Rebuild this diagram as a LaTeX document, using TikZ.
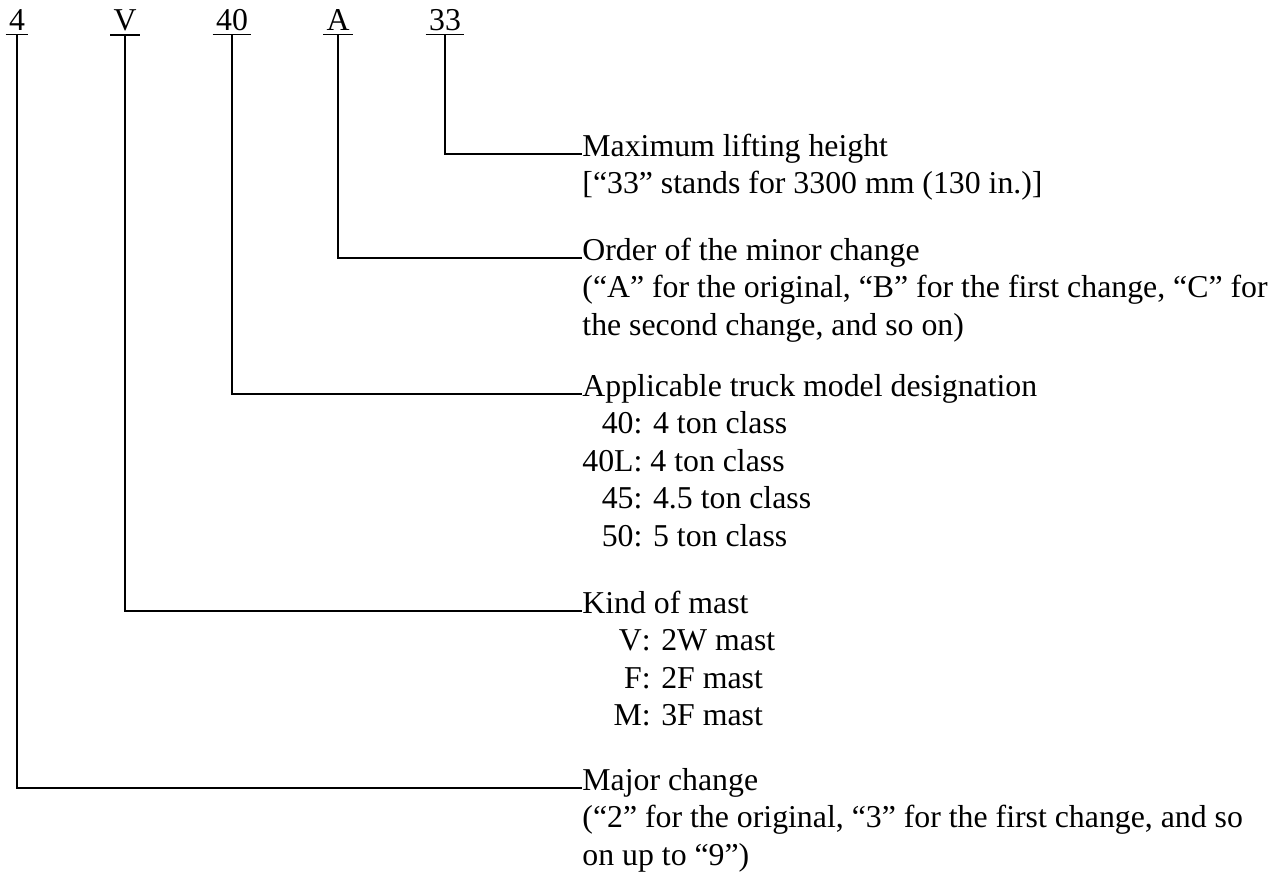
\documentclass[tikz,border=0pt]{standalone}
\usepackage{fontspec}
\setmainfont{Liberation Serif}
\usepackage{tikz}
\newcommand{\mastlab}[1]{\hspace*{0.98em}\makebox[0.889em][r]{#1}:}
\newenvironment{lines}{\begin{tabular}[t]{@{}l@{}}}{\end{tabular}}

\begin{document}
\begin{tikzpicture}[x=0.5pt,y=-0.5pt]
\tikzstyle{every node}+=[inner sep=0pt,font=\fontsize{15.9}{18.75}\selectfont]
\tikzstyle{code}=[anchor=base,inner xsep=1.5pt,inner ysep=2pt]
\tikzstyle{desc}=[anchor=base west]
\tikzstyle{lead}=[black,line width=1pt]
\useasboundingbox (0,0) rectangle (1288,875);
\node [code] (c4) at (17,30) {4};
\node [code] (cV) at (125,30) {V};
\node [code] (c40) at (232,30) {40};
\node [code] (cA) at (338,30) {A};
\node [code] (c33) at (445,30) {33};
\draw [black,line width=0.7pt] (c4.south west) -- (c4.south east);
\draw [black,line width=0.7pt] (cV.south west) -- (cV.south east);
\draw [black,line width=0.7pt] (c40.south west) -- (c40.south east);
\draw [black,line width=0.7pt] (cA.south west) -- (cA.south east);
\draw [black,line width=0.7pt] (c33.south west) -- (c33.south east);
\node [desc] (t33) at (582,156) {\begin{lines}Maximum lifting height\\{}[“33” stands for 3300 mm (130 in.)]\end{lines}};
\node [desc] (tA) at (582,260) {\begin{lines}Order of the minor change\\(“A” for the original, “B” for the first change, “C” for\\the second change, and so on)\end{lines}};
\node [desc] (t40) at (582,396) {\begin{lines}Applicable truck model designation\\\hphantom{L}40: 4 ton class\\40L: 4 ton class\\\hphantom{L}45: 4.5 ton class\\\hphantom{L}50: 5 ton class\end{lines}};
\node [desc] (tV) at (582,613) {\begin{lines}Kind of mast\\\mastlab{V} 2W mast\\\mastlab{F} 2F mast\\\mastlab{M} 3F mast\end{lines}};
\node [desc] (t4) at (582,790) {\begin{lines}Major change\\(“2” for the original, “3” for the first change, and so\\on up to “9”)\end{lines}};
\draw [lead] (c33.south) |- ([yshift=1pt]t33.base west);
\draw [lead] (cA.south) |- ([yshift=1pt]tA.base west);
\draw [lead] (c40.south) |- ([yshift=1pt]t40.base west);
\draw [lead] (cV.south) |- ([yshift=1pt]tV.base west);
\draw [lead] (c4.south) |- ([yshift=1pt]t4.base west);
\end{tikzpicture}
\end{document}
